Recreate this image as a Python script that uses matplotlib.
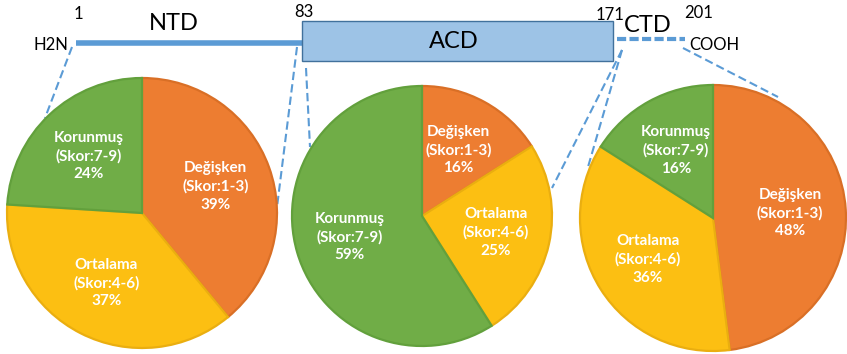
import matplotlib.pyplot as plt

plt.rcParams['font.family'] = ['Lato', 'DejaVu Sans']

W, H = 847, 354

# conservation classes (same order in every pie, clockwise from top)
classes = ['Değişken', 'Ortalama', 'Korunmuş']
scores = ['Skor:1-3', 'Skor:4-6', 'Skor:7-9']
ntd = [39, 37, 24]
acd = [16, 25, 59]
ctd = [48, 36, 16]

fills = ['#ED7D31', '#FCBF12', '#70AD47']
edges = ['#D96F26', '#EAAE10', '#62A03C']
blue = '#5B9BD5'


def fy(y):
    # top-down pixel rows to axis y
    return H - y


fig = plt.figure(figsize=(W / 100, H / 100), dpi=100)
ax = fig.add_axes([0, 0, 1, 1])

# pie centres / radii in pixels
pies = [(ntd, 142, 213, 135), (acd, 422, 216, 130), (ctd, 713, 218, 133)]

for vals, cx, cy, r in pies:
    labels = [f'{c}\n({s})\n{v}%' for c, s, v in zip(classes, scores, vals)]
    wedges, texts = ax.pie(vals, colors=fills, startangle=90, counterclock=False,
                           center=(cx, fy(cy)), radius=r, labels=labels,
                           labeldistance=0.58, frame=True,
                           wedgeprops=dict(linewidth=1.6, zorder=3),
                           textprops=dict(color='white', fontsize=11,
                                          fontweight='bold', zorder=4))
    for w, ec in zip(wedges, edges):
        w.set_edgecolor(ec)
    for t in texts:
        t.set_ha('center')
        t.set_va('center')
        t.set_multialignment('center')
        t.set_linespacing(1.35)

# protein domain sketch
ax.plot([76, 302], [fy(43), fy(43)], color=blue, lw=4, solid_capstyle='butt',
        zorder=2)
ax.add_patch(plt.Rectangle((302, fy(61)), 311, 40, facecolor='#9DC3E6',
                           edgecolor='#41719C', lw=1, zorder=3))
ax.plot([617, 685], [fy(39), fy(39)], color=blue, lw=3, ls=(0, (2.2, 0.8)),
        zorder=2)

ax.text(78, fy(14), '1', fontsize=12, ha='center', va='center')
ax.text(174, fy(24), 'NTD', fontsize=17, ha='center', va='center')
ax.text(51, fy(45), 'H2N', fontsize=12, ha='center', va='center')
ax.text(304, fy(12), '83', fontsize=12, ha='center', va='center')
ax.text(454, fy(42), 'ACD', fontsize=17, ha='center', va='center')
ax.text(610, fy(15), '171', fontsize=12, ha='center', va='center')
ax.text(648, fy(25), 'CTD', fontsize=17, ha='center', va='center')
ax.text(699, fy(13), '201', fontsize=12, ha='center', va='center')
ax.text(714, fy(45), 'COOH', fontsize=12, ha='center', va='center')

# dashed connectors from the domains down to their pies
links = [((72, 47), (45, 118)),
         ((297, 47), (277, 207)),
         ((306, 68), (310, 147)),
         ((622, 50), (552, 188)),
         ((622, 50), (588, 167)),
         ((683, 48), (778, 97))]
for (x0, y0), (x1, y1) in links:
    ax.plot([x0, x1], [fy(y0), fy(y1)], color=blue, lw=1.5,
            ls=(0, (4, 2)), zorder=1)

ax.set_xlim(0, W)
ax.set_ylim(0, H)
ax.set_aspect('equal')
ax.axis('off')

fig.savefig('out.png', dpi=100)
